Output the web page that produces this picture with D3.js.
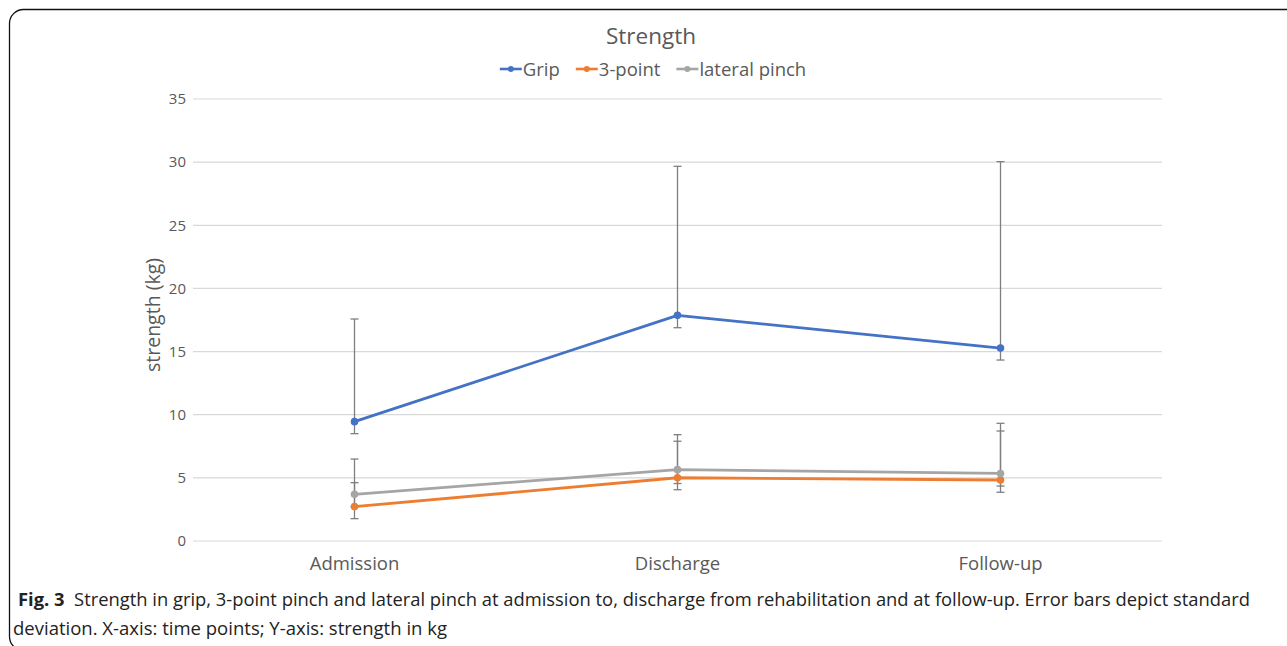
<!DOCTYPE html>
<html><head><meta charset="utf-8">
<script src="https://cdn.jsdelivr.net/npm/d3@7"></script>
<style>
html,body{margin:0;padding:0;background:#fff;}
svg{display:block;}
</style></head>
<body>
<svg id="chart" width="1287" height="646"></svg>
<script>
// ---- data ----
const categories = ["Admission", "Discharge", "Follow-up"];
const seriesNames = ["Grip", "3-point", "lateral pinch"];
const gripMean = [9.45, 17.87, 15.28];
const gripUpper = [17.58, 29.67, 30.04];
const gripLower = [8.50, 16.89, 14.33];
const threePointMean = [2.72, 5.01, 4.83];
const threePointUpper = [4.62, 7.90, 8.71];
const threePointLower = [1.77, 4.06, 3.86];
const lateralMean = [3.70, 5.65, 5.35];
const lateralUpper = [6.49, 8.42, 9.32];
const lateralLower = [2.73, 4.55, 4.35];
const yTicks = [0, 5, 10, 15, 20, 25, 30, 35];
const colors = ["#4472C4", "#ED7D31", "#A5A5A5"];

const series = [
  {name: seriesNames[0], mean: gripMean, up: gripUpper, lo: gripLower, color: colors[0]},
  {name: seriesNames[1], mean: threePointMean, up: threePointUpper, lo: threePointLower, color: colors[1]},
  {name: seriesNames[2], mean: lateralMean, up: lateralUpper, lo: lateralLower, color: colors[2]}
];

const svg = d3.select("#chart");
const font = "'Open Sans', 'Noto Sans', sans-serif";
const textCol = "#595959";

// frame
svg.append("rect").attr("x", 9.5).attr("y", 9.5).attr("width", 1320).attr("height", 641)
  .attr("rx", 14).attr("fill", "none").attr("stroke", "#111").attr("stroke-width", 1.3);

const x = d3.scaleBand().domain(categories).range([193, 1162]);
const y = d3.scaleLinear().domain([0, 35]).range([541, 99]);
const cx = c => x(c) + x.bandwidth() / 2;

// grid
svg.append("g").selectAll("line").data(yTicks).join("line")
  .attr("x1", 193).attr("x2", 1162)
  .attr("y1", d => y(d)).attr("y2", d => y(d))
  .attr("stroke", "#d9d9d9").attr("stroke-width", 1.2);

// y axis labels
const yAxis = d3.axisLeft(y).tickValues(yTicks).tickSize(0).tickPadding(0);
const yg = svg.append("g").attr("transform", "translate(186,0)").call(yAxis);
yg.select(".domain").remove();
yg.selectAll("text").attr("font-family", font).attr("font-size", 15).attr("fill", textCol);

// x axis labels
const xAxis = d3.axisBottom(x).tickSize(0).tickPadding(0);
const xg = svg.append("g").attr("transform", "translate(0,557)").call(xAxis);
xg.select(".domain").remove();
xg.selectAll("text").attr("font-family", font).attr("font-size", 18.5).attr("fill", textCol);

// y title
svg.append("text").attr("transform", "translate(160,315) rotate(-90)")
  .attr("text-anchor", "middle").attr("font-family", font).attr("font-size", 19.5)
  .attr("fill", textCol).text("strength (kg)");

// title
svg.append("text").attr("x", 651).attr("y", 44).attr("text-anchor", "middle")
  .attr("font-family", font).attr("font-size", 22.5).attr("fill", textCol).text("Strength");

// error bars
const eg = svg.append("g").attr("stroke", "#7f7f7f").attr("stroke-width", 1.3);
series.forEach(s => {
  categories.forEach((c, i) => {
    const px = cx(c);
    eg.append("line").attr("x1", px).attr("x2", px).attr("y1", y(s.up[i])).attr("y2", y(s.lo[i]));
    [s.up[i], s.lo[i]].forEach(v => {
      eg.append("line").attr("x1", px - 4).attr("x2", px + 4).attr("y1", y(v)).attr("y2", y(v));
    });
  });
});

// lines + markers
const line = d3.line().x((d, i) => cx(categories[i])).y(d => y(d));
series.forEach(s => {
  svg.append("path").datum(s.mean).attr("d", line).attr("fill", "none")
    .attr("stroke", s.color).attr("stroke-width", 2.8).attr("stroke-linejoin", "round");
  svg.append("g").selectAll("circle").data(s.mean).join("circle")
    .attr("cx", (d, i) => cx(categories[i])).attr("cy", d => y(d)).attr("r", 3.8)
    .attr("fill", s.color);
});

// legend
const lg = svg.append("g");
let lx = 0;
series.forEach((s, i) => {
  const g = lg.append("g").attr("transform", `translate(${lx},0)`);
  g.append("line").attr("x1", 0).attr("x2", 22).attr("y1", 0).attr("y2", 0)
    .attr("stroke", s.color).attr("stroke-width", 2.6);
  g.append("circle").attr("cx", 11).attr("cy", 0).attr("r", 3).attr("fill", s.color);
  const t = g.append("text").attr("x", 23).attr("y", 6.5).attr("font-family", font)
    .attr("font-size", 18.5).attr("fill", textCol).text(s.name);
  lx += 23 + t.node().getComputedTextLength() + 16;
});
const lw = lx - 16;
lg.attr("transform", `translate(${653 - lw / 2},69)`);

// caption
const cap = svg.append("text").attr("x", 18).attr("y", 606).attr("font-family", font)
  .attr("font-size", 17.5).attr("fill", "#222");
cap.append("tspan").attr("font-weight", "bold").text("Fig. 3");
cap.append("tspan").text("\u00a0 Strength in grip, 3-point pinch and lateral pinch at admission to, discharge from rehabilitation and at follow-up. Error bars depict standard");
cap.attr("textLength", 1232).attr("lengthAdjust", "spacingAndGlyphs");
svg.append("text").attr("x", 13).attr("y", 635).attr("font-family", font)
  .attr("font-size", 17.5).attr("fill", "#222")
  .attr("textLength", 434).attr("lengthAdjust", "spacingAndGlyphs")
  .text("deviation. X-axis: time points; Y-axis: strength in kg");
</script>
</body></html>
